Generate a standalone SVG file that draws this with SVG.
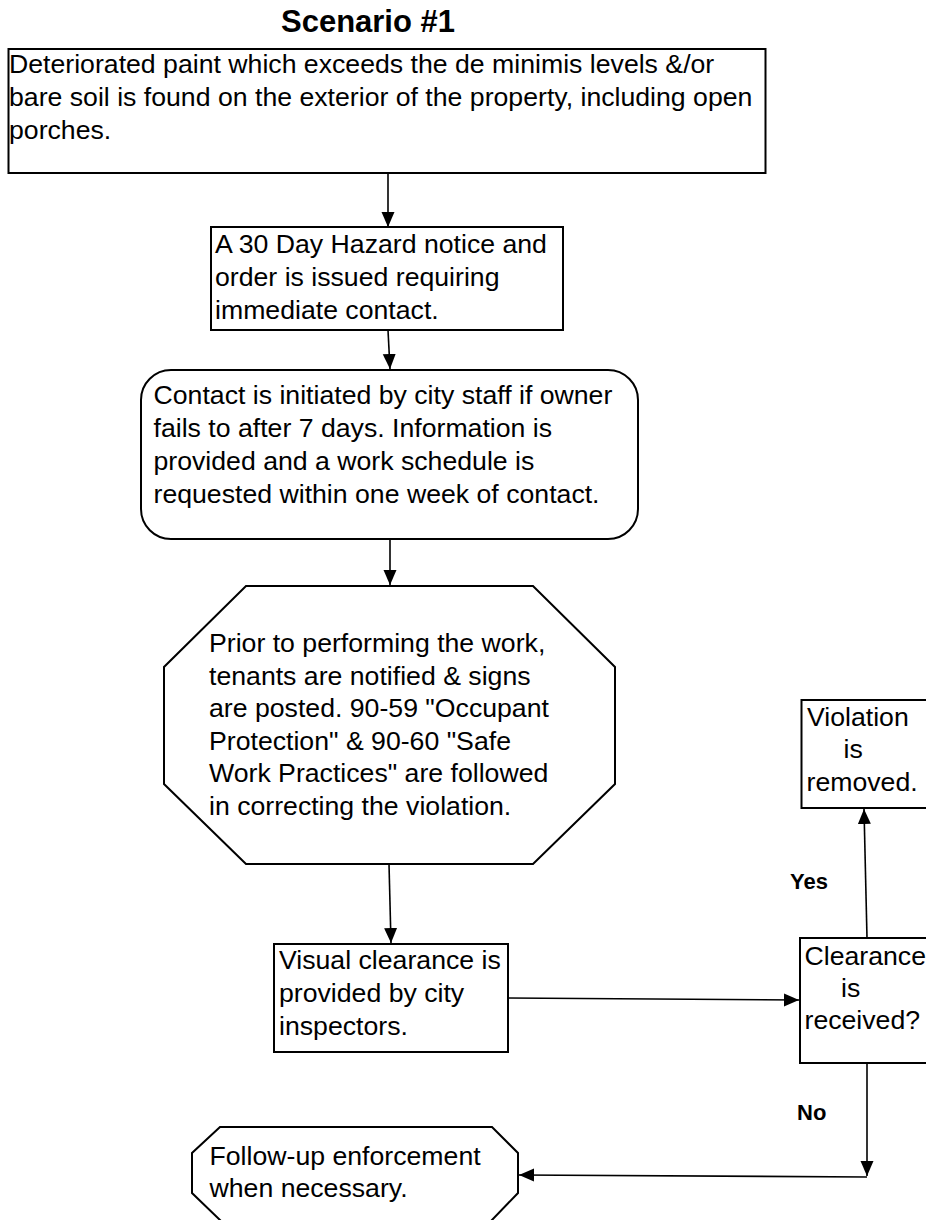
<svg xmlns="http://www.w3.org/2000/svg" width="926" height="1220" viewBox="0 0 926 1220">
<style>
  .box { fill: #ffffff; stroke: #000000; stroke-width: 2; }
  .t { font-family: "Liberation Sans", Arial, sans-serif; font-size: 26.67px; fill: #000000; }
  .lbl { font-family: "Liberation Sans", Arial, sans-serif; font-size: 22px; font-weight: bold; fill: #000000; }
  .title { font-family: "Liberation Sans", Arial, sans-serif; font-size: 31px; font-weight: bold; fill: #000000; }
  .conn { fill: none; stroke: #000000; stroke-width: 1.6; marker-end: url(#arrow); }
</style>
<defs>
  <marker id="arrow" markerUnits="userSpaceOnUse" markerWidth="16" markerHeight="14" refX="15" refY="6.5" orient="auto">
    <path d="M0,0 L15,6.5 L0,13 z" fill="#000000"/>
  </marker>
</defs>
<rect x="0" y="0" width="926" height="1220" fill="#ffffff"/>

<text class="title" x="368" y="32" text-anchor="middle">Scenario #1</text>

<g id="connectors">
  <path class="conn" d="M388,173 L388,227"/>
  <path class="conn" d="M388,330 L390,369"/>
  <path class="conn" d="M390,539 L390,585"/>
  <path class="conn" d="M389,864 L391,943"/>
  <path class="conn" d="M508,998 L799,1000"/>
  <path class="conn" d="M867,938 L864,809"/>
  <path class="conn" d="M867,1063 L867,1176"/>
  <path class="conn" d="M867,1177 L519,1175"/>
  <text class="lbl" x="790" y="889">Yes</text>
  <text class="lbl" x="797" y="1120">No</text>
</g>

<g id="n1">
  <rect class="box" x="8.5" y="49" width="757" height="124"/>
  <text class="t" x="9" y="73">Deteriorated paint which exceeds the de minimis levels &amp;/or</text>
  <text class="t" x="9" y="106">bare soil is found on the exterior of the property, including open</text>
  <text class="t" x="9" y="139">porches.</text>
</g>

<g id="n2">
  <rect class="box" x="211" y="227" width="352" height="103"/>
  <text class="t" x="215" y="253">A 30 Day Hazard notice and</text>
  <text class="t" x="215" y="286">order is issued requiring</text>
  <text class="t" x="215" y="319">immediate contact.</text>
</g>

<g id="n3">
  <rect class="box" x="141" y="370" width="497" height="169" rx="30" ry="30"/>
  <text class="t" x="153.5" y="404">Contact is initiated by city staff if owner</text>
  <text class="t" x="153.5" y="437">fails to after 7 days. Information is</text>
  <text class="t" x="153.5" y="470">provided and a work schedule is</text>
  <text class="t" x="153.5" y="503">requested within one week of contact.</text>
</g>

<g id="n4">
  <polygon class="box" points="246,586 533,586 615,667 615,784 533,864 246,864 164,784 164,667"/>
  <text class="t" x="209" y="652">Prior to performing the work,</text>
  <text class="t" x="209" y="684.5">tenants are notified &amp; signs</text>
  <text class="t" x="209" y="717">are posted. 90-59 "Occupant</text>
  <text class="t" x="209" y="749.5">Protection" &amp; 90-60 "Safe</text>
  <text class="t" x="209" y="782">Work Practices" are followed</text>
  <text class="t" x="209" y="814.5">in correcting the violation.</text>
</g>

<g id="n5">
  <rect class="box" x="274" y="944" width="234" height="108"/>
  <text class="t" x="279" y="969">Visual clearance is</text>
  <text class="t" x="279" y="1002">provided by city</text>
  <text class="t" x="279" y="1035">inspectors.</text>
</g>

<g id="n6">
  <rect class="box" x="800" y="938" width="140" height="125"/>
  <text class="t" x="804.5" y="965">Clearance</text>
  <text class="t" x="841" y="997">is</text>
  <text class="t" x="804.5" y="1029">received?</text>
</g>

<g id="n7">
  <rect class="box" x="801.5" y="700" width="140" height="108"/>
  <text class="t" x="807" y="726">Violation</text>
  <text class="t" x="843.5" y="758">is</text>
  <text class="t" x="806.5" y="791">removed.</text>
</g>

<g id="n8">
  <polygon class="box" points="220,1127 492,1127 518,1153 518,1193 491,1221 221,1221 192,1193 192,1153"/>
  <text class="t" x="209.5" y="1165">Follow-up enforcement</text>
  <text class="t" x="209.5" y="1197">when necessary.</text>
</g>
</svg>
